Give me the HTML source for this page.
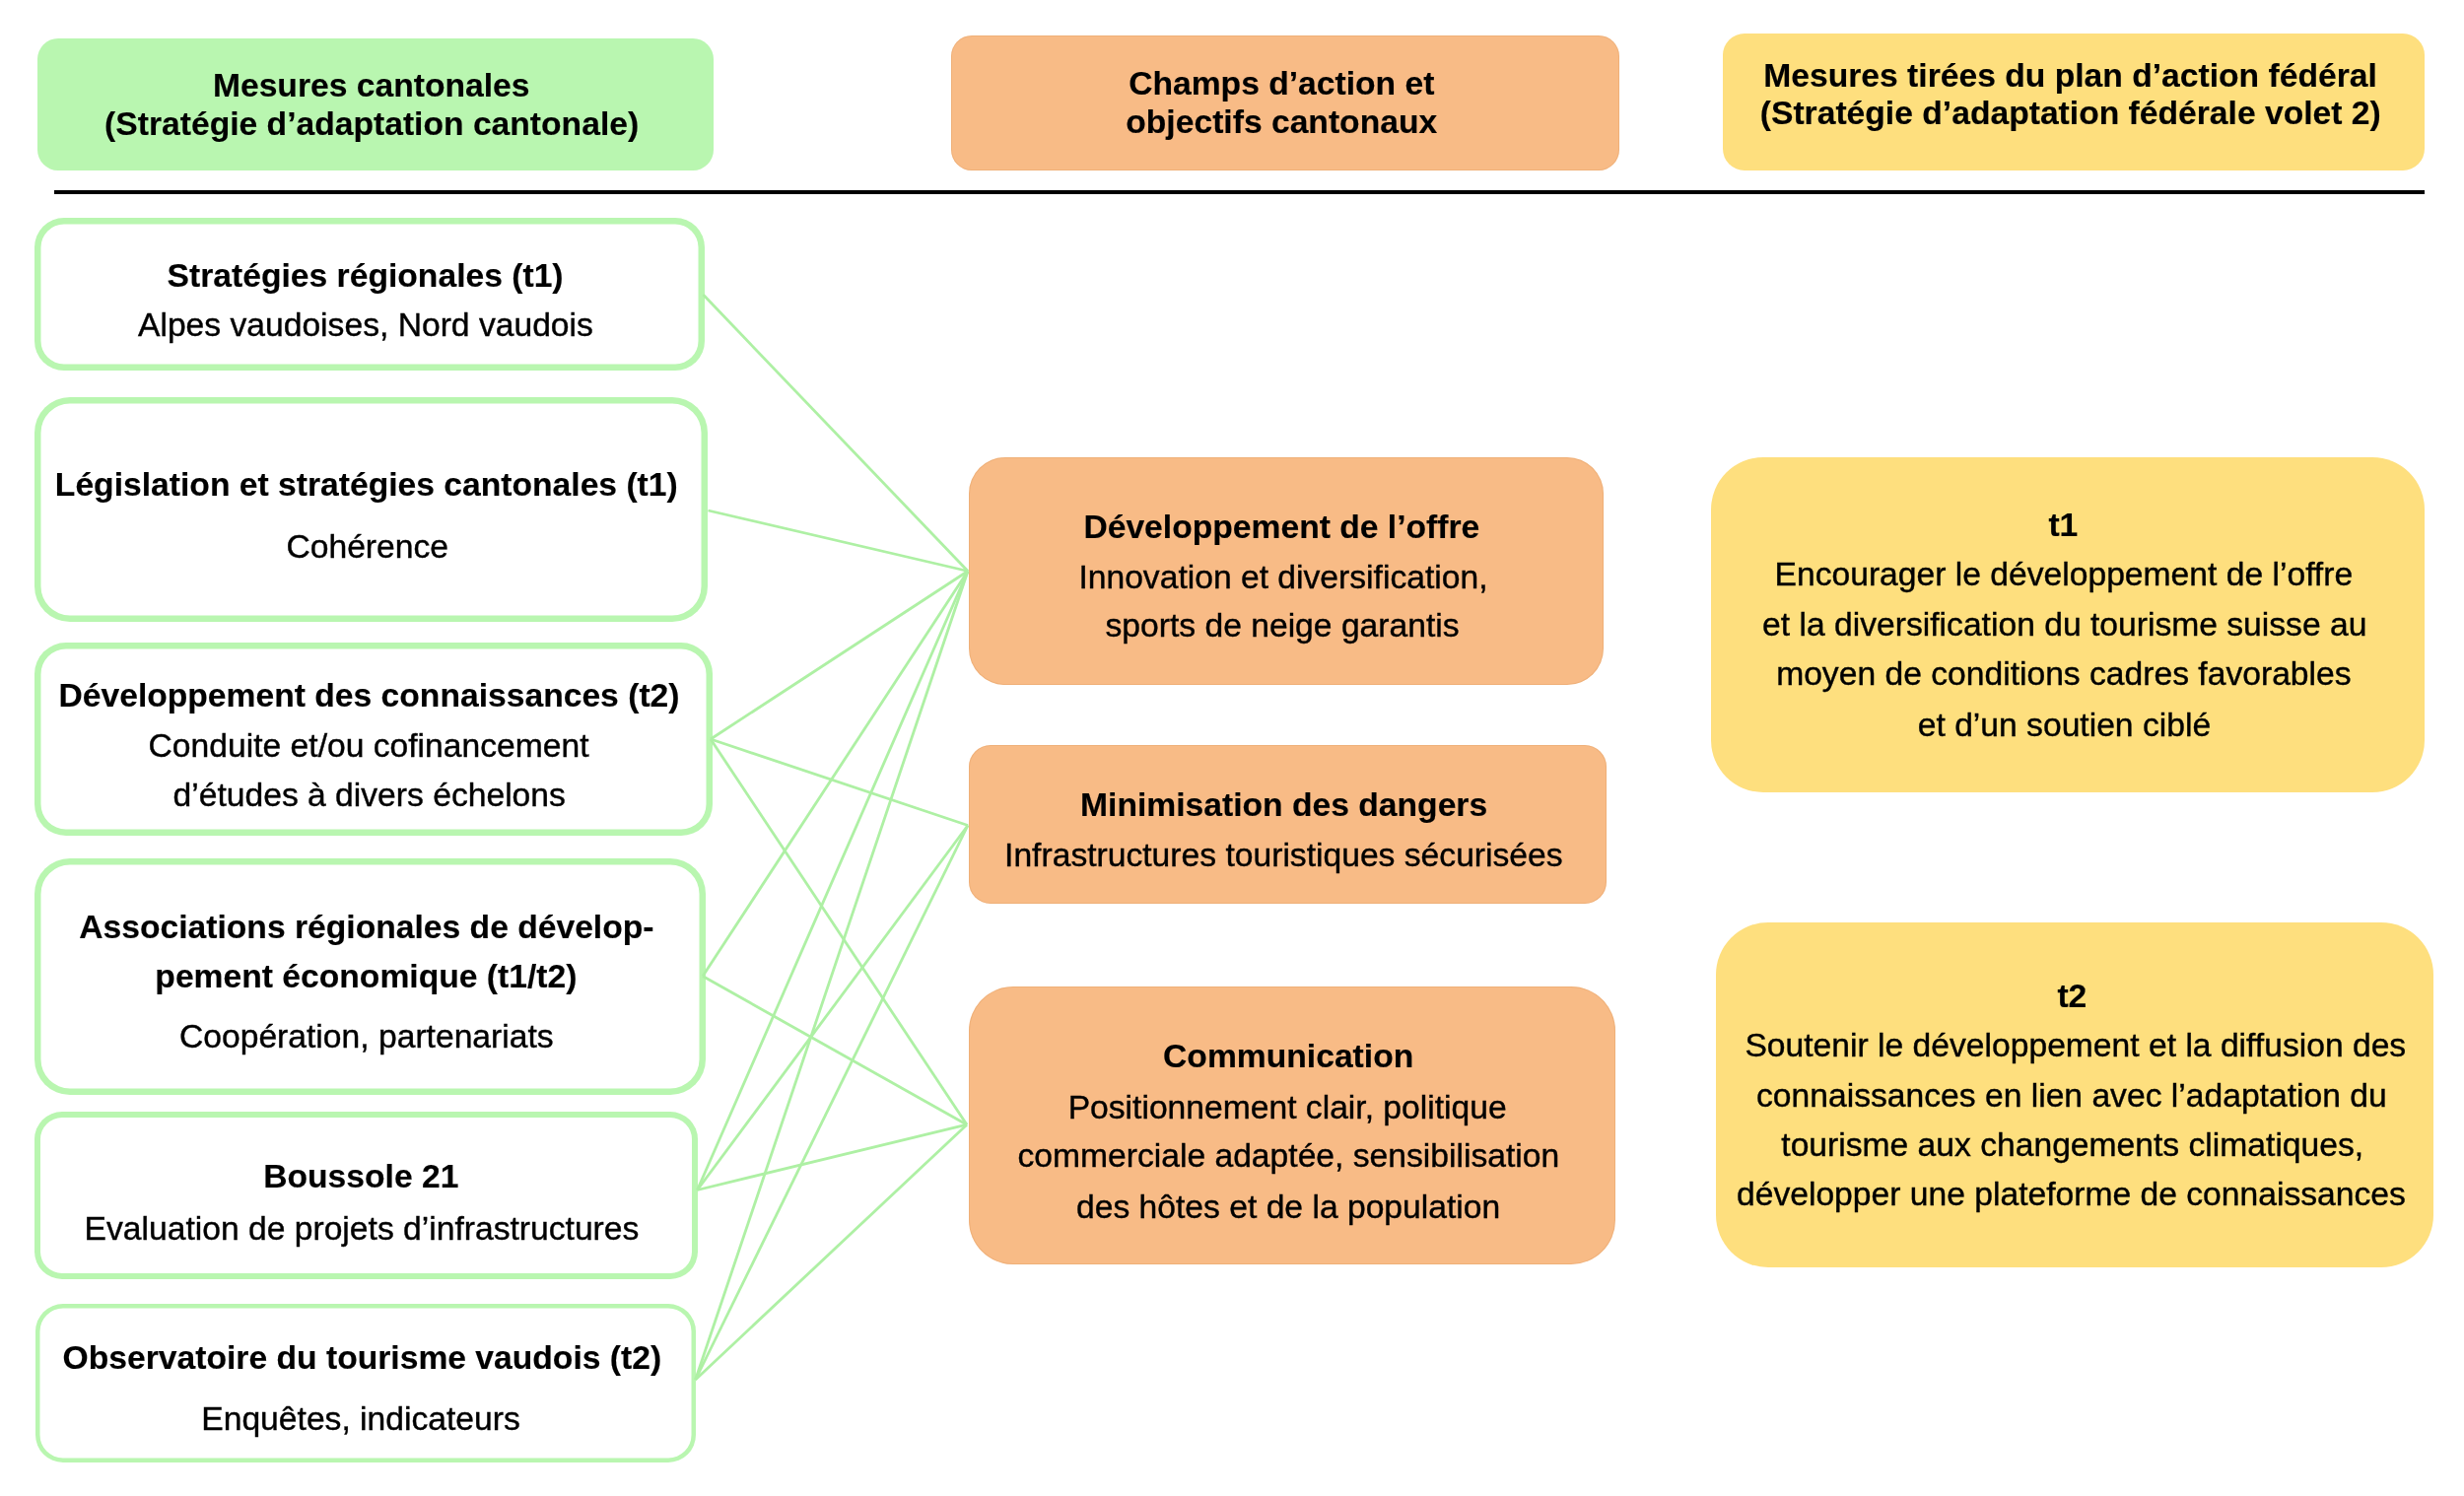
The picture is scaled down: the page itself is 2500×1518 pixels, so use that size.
<!DOCTYPE html>
<html><head><meta charset="utf-8"><style>
html,body{margin:0;padding:0;background:#fff;}
body{width:2500px;height:1518px;position:relative;overflow:hidden;}
.b{position:absolute;box-sizing:border-box;}
.t{position:absolute;white-space:nowrap;font-family:"Liberation Sans",sans-serif;font-size:33.65px;line-height:33.65px;color:#000;}
.t{-webkit-text-stroke:0.4px #000;}
.bd{font-weight:bold;-webkit-text-stroke:0.15px #000;}
</style></head><body>
<div class="b" style="left:38px;top:39px;width:686px;height:133.5px;border-radius:21px;background:#b9f6b0;"></div>
<div class="b" style="left:965px;top:36px;width:678px;height:136.5px;border-radius:21px;background:#f8bb86;box-shadow:inset 0 0 0 1px rgba(200,125,60,0.18);"></div>
<div class="b" style="left:1748px;top:33.5px;width:712px;height:139.0px;border-radius:22px;background:#fedf7e;"></div>
<div class="b" style="left:55px;top:193px;width:2405px;height:4px;background:#000"></div>
<div class="b" style="left:35px;top:220.5px;width:679.5px;height:155.0px;border-radius:30px;background:#fff;box-shadow:inset 0 0 0 6.5px #b9f6b0;"></div>
<div class="b" style="left:35px;top:403px;width:683.4px;height:227.79999999999995px;border-radius:36px;background:#fff;box-shadow:inset 0 0 0 6.5px #b9f6b0;"></div>
<div class="b" style="left:35px;top:651.5px;width:687.5px;height:196.10000000000002px;border-radius:32px;background:#fff;box-shadow:inset 0 0 0 6.5px #b9f6b0;"></div>
<div class="b" style="left:35px;top:871px;width:681px;height:240px;border-radius:36px;background:#fff;box-shadow:inset 0 0 0 6.5px #b9f6b0;"></div>
<div class="b" style="left:35px;top:1128px;width:672.5px;height:169.5px;border-radius:28px;background:#fff;box-shadow:inset 0 0 0 6px #b9f6b0;"></div>
<div class="b" style="left:35.5px;top:1322.5px;width:670.1px;height:161.5px;border-radius:28px;background:#fff;box-shadow:inset 0 0 0 4.5px #b9f6b0;"></div>
<div class="b" style="left:983px;top:464px;width:643.5px;height:231px;border-radius:37px;background:#f8bb86;box-shadow:inset 0 0 0 1px rgba(200,125,60,0.18);"></div>
<div class="b" style="left:983px;top:756px;width:646.5px;height:160.5px;border-radius:22px;background:#f8bb86;box-shadow:inset 0 0 0 1px rgba(200,125,60,0.18);"></div>
<div class="b" style="left:983px;top:1001px;width:655.5px;height:282px;border-radius:45px;background:#f8bb86;box-shadow:inset 0 0 0 1px rgba(200,125,60,0.18);"></div>
<div class="b" style="left:1736px;top:464px;width:724px;height:339.5px;border-radius:53px;background:#fedf7e;"></div>
<div class="b" style="left:1741px;top:936px;width:727.5px;height:349.5px;border-radius:53px;background:#fedf7e;"></div>
<svg class="b" style="left:0;top:0" width="2500" height="1518" viewBox="0 0 2500 1518">
<line x1="713.5" y1="299" x2="982" y2="579.5" stroke="#aef0a4" stroke-width="2.8"/>
<line x1="718.5" y1="518" x2="982" y2="579.5" stroke="#aef0a4" stroke-width="2.8"/>
<line x1="721" y1="750" x2="982" y2="579.5" stroke="#aef0a4" stroke-width="2.8"/>
<line x1="721" y1="750" x2="982" y2="837.5" stroke="#aef0a4" stroke-width="2.8"/>
<line x1="721" y1="750" x2="981" y2="1141.2" stroke="#aef0a4" stroke-width="2.8"/>
<line x1="713" y1="990.5" x2="982" y2="579.5" stroke="#aef0a4" stroke-width="2.8"/>
<line x1="713" y1="990.5" x2="981" y2="1141.2" stroke="#aef0a4" stroke-width="2.8"/>
<line x1="707.5" y1="1207.5" x2="982" y2="579.5" stroke="#aef0a4" stroke-width="2.8"/>
<line x1="707.5" y1="1207.5" x2="982" y2="837.5" stroke="#aef0a4" stroke-width="2.8"/>
<line x1="707.5" y1="1207.5" x2="981" y2="1141.2" stroke="#aef0a4" stroke-width="2.8"/>
<line x1="705.6" y1="1400" x2="982" y2="579.5" stroke="#aef0a4" stroke-width="2.8"/>
<line x1="705.6" y1="1400" x2="982" y2="837.5" stroke="#aef0a4" stroke-width="2.8"/>
<line x1="705.6" y1="1400" x2="981" y2="1141.2" stroke="#aef0a4" stroke-width="2.8"/>
</svg>
<div class="b" style="left:0;top:0;width:2500px;height:1518px;will-change:transform">
<div class="t bd" style="left:215.92px;top:69.81px">Mesures cantonales</div>
<div class="t bd" style="left:106.09px;top:108.61px">(Stratégie d’adaptation cantonale)</div>
<div class="t bd" style="left:1145.13px;top:67.91px">Champs d’action et</div>
<div class="t bd" style="left:1142.27px;top:107.31px">objectifs cantonaux</div>
<div class="t bd" style="left:1789.26px;top:60.41px">Mesures tirées du plan d’action fédéral</div>
<div class="t bd" style="left:1785.78px;top:97.91px">(Stratégie d’adaptation fédérale volet 2)</div>
<div class="t bd" style="left:169.62px;top:262.71px">Stratégies régionales (t1)</div>
<div class="t" style="left:139.97px;top:313.41px">Alpes vaudoises, Nord vaudois</div>
<div class="t bd" style="left:55.87px;top:475.01px">Législation et stratégies cantonales (t1)</div>
<div class="t" style="left:290.43px;top:537.91px">Cohérence</div>
<div class="t bd" style="left:59.46px;top:689.01px">Développement des connaissances (t2)</div>
<div class="t" style="left:150.57px;top:739.91px">Conduite et/ou cofinancement</div>
<div class="t" style="left:175.53px;top:790.01px">d’études à divers échelons</div>
<div class="t bd" style="left:80.24px;top:923.71px">Associations régionales de dévelop-</div>
<div class="t bd" style="left:157.35px;top:973.51px">pement économique (t1/t2)</div>
<div class="t" style="left:181.99px;top:1035.31px">Coopération, partenariats</div>
<div class="t bd" style="left:267.22px;top:1177.01px">Boussole 21</div>
<div class="t" style="left:85.53px;top:1229.51px">Evaluation de projets d’infrastructures</div>
<div class="t bd" style="left:63.60px;top:1360.71px">Observatoire du tourisme vaudois (t2)</div>
<div class="t" style="left:204.27px;top:1422.51px">Enquêtes, indicateurs</div>
<div class="t bd" style="left:1099.40px;top:517.81px">Développement de l’offre</div>
<div class="t" style="left:1094.38px;top:568.91px">Innovation et diversification,</div>
<div class="t" style="left:1121.51px;top:618.21px">sports de neige garantis</div>
<div class="t bd" style="left:1096.05px;top:800.41px">Minimisation des dangers</div>
<div class="t" style="left:1019.07px;top:851.21px">Infrastructures touristiques sécurisées</div>
<div class="t bd" style="left:1180.08px;top:1055.21px">Communication</div>
<div class="t" style="left:1083.64px;top:1106.71px">Positionnement clair, politique</div>
<div class="t" style="left:1032.43px;top:1156.21px">commerciale adaptée, sensibilisation</div>
<div class="t" style="left:1092.03px;top:1208.01px">des hôtes et de la population</div>
<div class="t bd" style="left:2078.40px;top:515.61px">t1</div>
<div class="t" style="left:1800.53px;top:565.71px">Encourager le développement de l’offre</div>
<div class="t" style="left:1788.12px;top:617.21px">et la diversification du tourisme suisse au</div>
<div class="t" style="left:1802.14px;top:667.31px">moyen de conditions cadres favorables</div>
<div class="t" style="left:1945.76px;top:718.71px">et d’un soutien ciblé</div>
<div class="t bd" style="left:2087.41px;top:993.91px">t2</div>
<div class="t" style="left:1770.41px;top:1044.31px">Soutenir le développement et la diffusion des</div>
<div class="t" style="left:1782.06px;top:1094.81px">connaissances en lien avec l’adaptation du</div>
<div class="t" style="left:1807.29px;top:1144.61px">tourisme aux changements climatiques,</div>
<div class="t" style="left:1761.97px;top:1194.81px">développer une plateforme de connaissances</div>
</div>
</body></html>
